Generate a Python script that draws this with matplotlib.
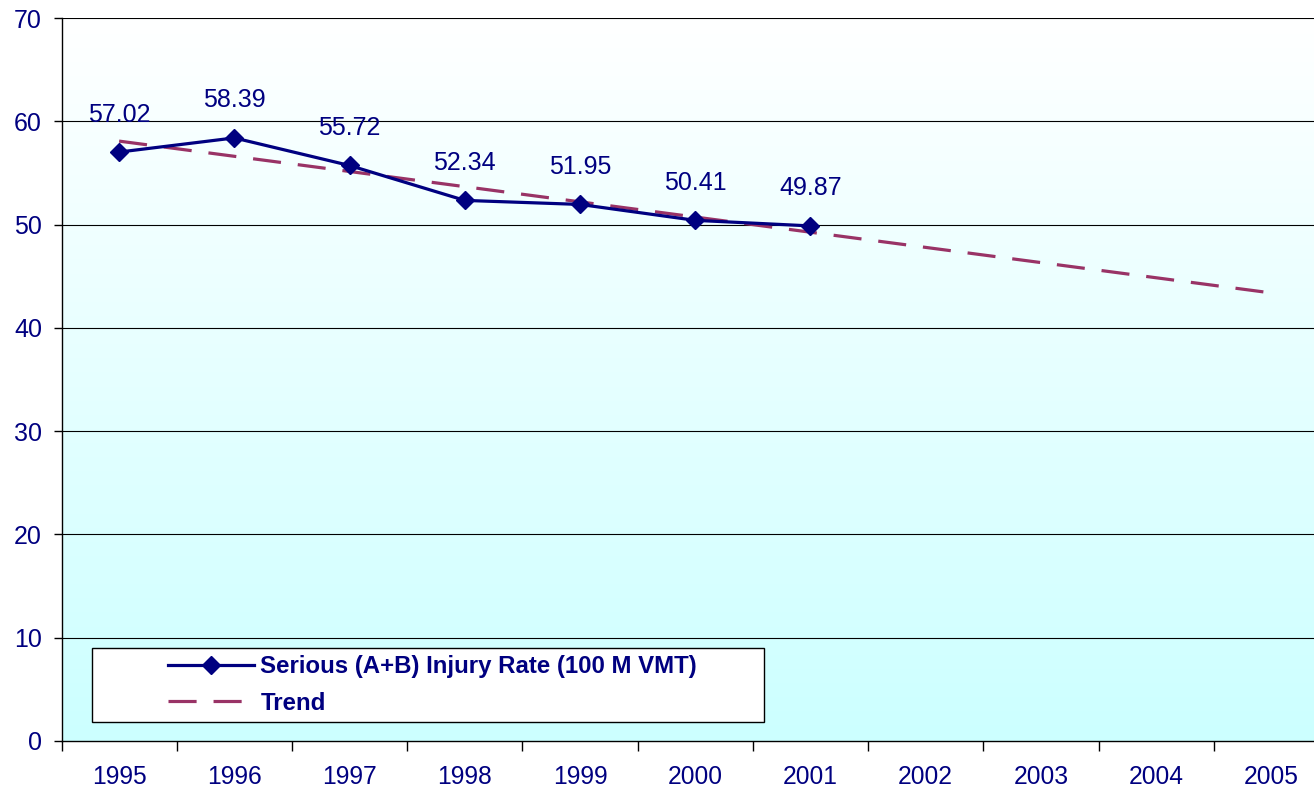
import numpy as np
import matplotlib.pyplot as plt
from matplotlib.patches import Rectangle

years = ['1995', '1996', '1997', '1998', '1999', '2000', '2001',
         '2002', '2003', '2004', '2005']
rate = [57.02, 58.39, 55.72, 52.34, 51.95, 50.41, 49.87]
trend_years = ['1995', '2005']
trend_vals = [58.08, 43.38]

navy = '#000080'
plum = '#993366'

plt.rcParams['font.family'] = ['Liberation Sans', 'DejaVu Sans']

fig = plt.figure(figsize=(13.14, 7.92), dpi=100)
ax = fig.add_axes([61.5 / 1314, 51 / 792, 1267.5 / 1314, 723 / 792])

xpos = np.arange(len(years))
ax.set_xlim(-0.5, len(years) - 0.5)
ax.set_ylim(0, 70)

# background gradient, white at the top to pale cyan at the bottom
grad = np.linspace(0, 1, 256).reshape(-1, 1)
top = np.array([1.0, 1.0, 1.0])
bot = np.array([0xCC, 0xFF, 0xFF]) / 255
img = top + (bot - top) * grad[..., None]
ax.imshow(img, extent=(-0.5, len(years) - 0.5, 0, 70), origin='upper',
          aspect='auto', zorder=0)

for v in range(10, 71, 10):
    ax.axhline(v, color='black', lw=0.8, zorder=1)

tx = [years.index(y) for y in trend_years]
ax.plot(tx, trend_vals, color=plum, lw=2.3, dashes=(8.8, 5.3), zorder=2,
        label='Trend')
ax.plot(xpos[:len(rate)], rate, color=navy, lw=2.3, marker='D', ms=9,
        zorder=3, label='Serious (A+B) Injury Rate (100 M VMT)')

for x, v in zip(xpos, rate):
    ax.annotate(f'{v:.2f}', (x, v), xytext=(0, 27), textcoords='offset points',
                ha='center', va='center', color=navy, fontsize=18)

ax.set_xticks(xpos)
ax.set_xticklabels(years)
ax.set_xticks(np.arange(-0.5, len(years), 1), minor=True)
ax.tick_params(axis='x', which='major', length=0, pad=17, labelsize=17.7,
               labelcolor=navy)
ax.tick_params(axis='x', which='minor', length=7, width=1, direction='out')
ax.set_yticks(range(0, 71, 10))
ax.tick_params(axis='y', length=6, width=1, pad=8, labelsize=18,
               labelcolor=navy)

for s in ['top', 'right']:
    ax.spines[s].set_visible(False)
for s in ['left', 'bottom']:
    ax.spines[s].set_linewidth(1)

# legend box
box = Rectangle((0.024, 0.0263), 0.53, 0.1023, transform=ax.transAxes,
                facecolor='white', edgecolor='black', lw=1, zorder=4)
ax.add_patch(box)
h, l = ax.get_legend_handles_labels()
leg = ax.legend(h[::-1], l[::-1], loc='center',
                bbox_to_anchor=(0.2927, 0.0263 + 0.0511),
                frameon=False, handlelength=3.6, fontsize=17.3,
                labelspacing=0.55, handletextpad=0.25)
leg.set_zorder(5)
for t in leg.get_texts():
    t.set_color(navy)
    t.set_fontweight('bold')

fig.savefig('out.png', dpi=100)
